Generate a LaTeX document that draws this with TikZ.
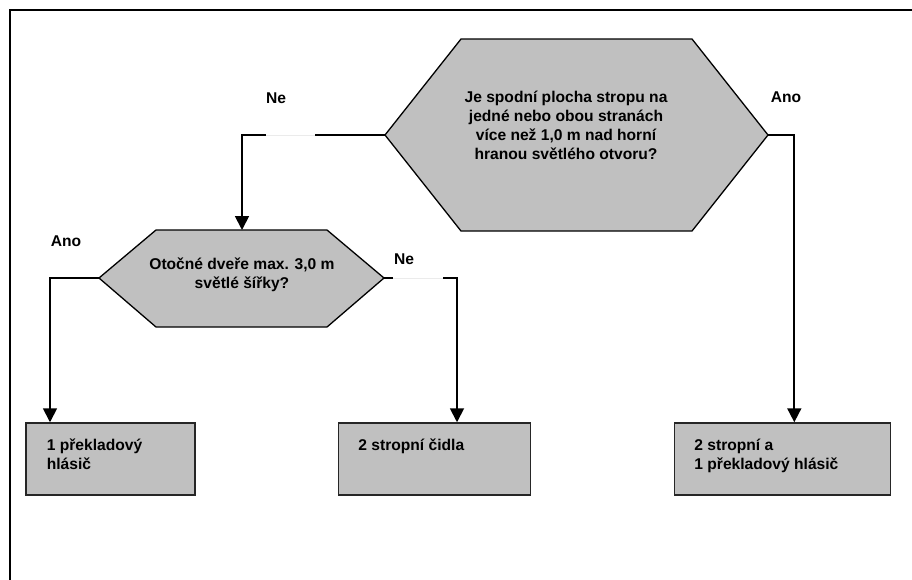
\documentclass[tikz,border=0pt]{standalone}
\usepackage{fontspec}
\setmainfont{Liberation Sans}
\usetikzlibrary{arrows.meta}

\definecolor{boxgray}{RGB}{192,192,192}
\newcommand{\flowfont}{\fontsize{15.6pt}{19pt}\selectfont\bfseries}

\tikzset{
  decision/.style={fill=boxgray, draw=black, line width=1.3pt},
  outbox/.style={draw=black!85, fill=boxgray, line width=1.5pt, minimum height=72pt, inner sep=0pt},
  boxtext/.style={anchor=north west, inner sep=0pt, align=left},
  qtext/.style={anchor=north, inner sep=0pt, align=center},
  lbl/.style={inner sep=0pt},
  flow/.style={line width=1.8pt, -{Triangle[width=14pt,length=14pt]}},
  gapline/.style={draw=black!8, line width=0.6pt, preaction={draw=white, line width=3pt}}
}

\begin{document}
\begin{tikzpicture}[x=1pt, y=-1pt, font=\flowfont]
\useasboundingbox (0,0) rectangle (912,579);
\draw[line width=2pt] (9.5,590) -- (9.5,9.5) -- (920,9.5);

\coordinate (q1w) at (385,135);
\coordinate (q1e) at (768,135);
\filldraw[decision] (q1w) -- (461,39) -- (692,39) -- (q1e) -- (692,231) -- (461,231) -- cycle;
\node[qtext] (q1) at (566,89.3) {\strut Je spodní plocha stropu na\\jedné nebo obou stranách\\více než 1,0 m nad horní\\hranou světlého otvoru?};

\coordinate (q2w) at (99,278);
\coordinate (q2e) at (384,278);
\coordinate (q2n) at (242,230);
\filldraw[decision] (q2w) -- (156,230) -- (327,230) -- (q2e) -- (327,327) -- (156,327) -- cycle;
\node[qtext] (q2) at (242,255.6) {\strut Otočné dveře max. 3,0 m\\světlé šířky?};

\node[outbox, minimum width=169pt] (box1) at (110.4,459) {};
\node[outbox, minimum width=192pt] (box2) at (434.5,459) {};
\node[outbox, minimum width=216pt] (box3) at (782.5,459) {};
\node[boxtext] (t1) at ([shift={(21.5,14.3)}]box1.north west) {\strut 1 překladový\\hlásič};
\node[boxtext] (t2) at ([shift={(20.5,14.3)}]box2.north west) {\strut 2 stropní čidla};
\node[boxtext] (t3) at ([shift={(20.5,14.3)}]box3.north west) {\strut 2 stropní a\\1 překladový hlásič};

\coordinate (k0) at (242,135);
\draw[flow] (q1w) -- (k0) -- (q2n);
\draw[gapline] (266,135) -- (315,135);
\coordinate (k1) at (50,278);
\draw[flow] (q2w) -- (k1) -- (k1 |- box1.north);
\coordinate (k2) at (457,278);
\draw[flow] (q2e) -- (k2) -- (k2 |- box2.north);
\draw[gapline] (393,278) -- (443,278);
\coordinate (k3) at (794.3,135);
\draw[flow] (q1e) -- (k3) -- (k3 |- box3.north);

\node[lbl] (ne1) at (276,98) {Ne};
\node[lbl] (ano1) at (66,241) {Ano};
\node[lbl] (ne2) at (404,259) {Ne};
\node[lbl] (ano2) at (786,97) {Ano};

\end{tikzpicture}
\end{document}
